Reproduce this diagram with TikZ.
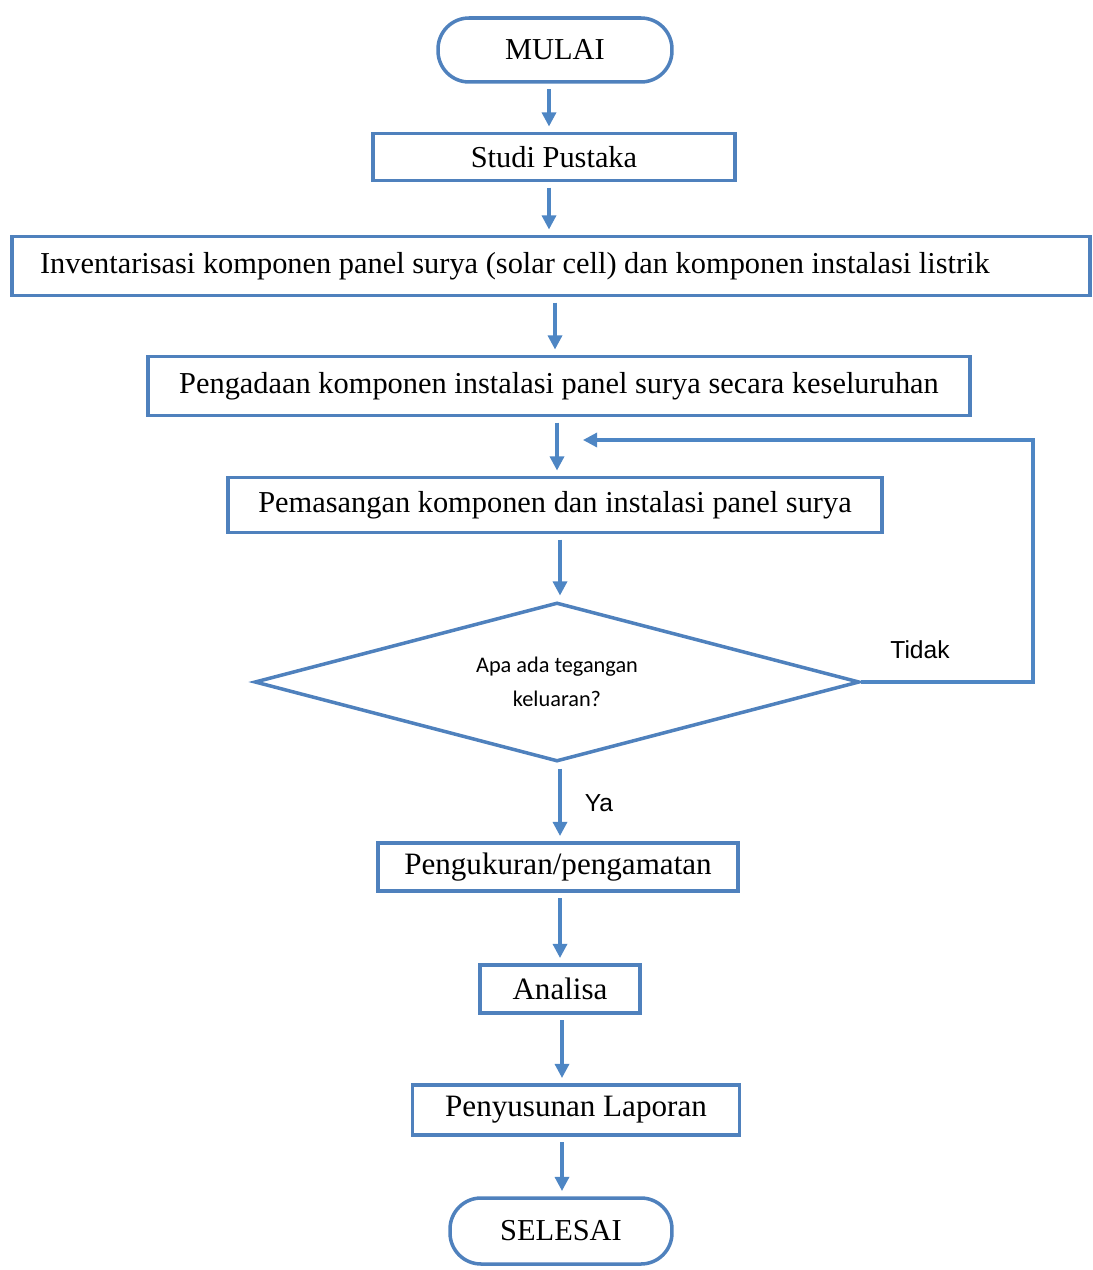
\documentclass[tikz,border=0pt]{standalone}
\usepackage{fontspec}
\setmainfont{Liberation Serif}
\newfontfamily\calibrifont{Carlito}
\newfontfamily\arialfont{Liberation Sans}
\usetikzlibrary{shapes.geometric,arrows.meta}
\definecolor{flowblue}{RGB}{79,129,189}
\definecolor{arrowblue}{RGB}{78,134,196}

\begin{document}
\begin{tikzpicture}[x=0.02cm,y=-0.02cm]
\tikzset{box/.style={draw=flowblue,line width=2pt,fill=white,inner sep=0pt,
  font=\fontsize{17.3}{20}\selectfont}}
\tikzset{lowbox/.style={box,font=\fontsize{17.7}{20}\selectfont}}
\tikzset{term/.style={box,rounded corners=0.62cm}}
\tikzset{decide/.style={draw=flowblue,line width=2pt,diamond,aspect=3.8,inner sep=0pt,
  minimum width=12.1cm,minimum height=3.18cm,align=center,
  font=\calibrifont\fontsize{12.7}{19}\selectfont}}
\tikzset{flow/.style={draw=arrowblue,line width=1.8pt,
  -{Triangle[length=8pt,width=8pt]},shorten <=3pt,shorten >=3pt}}
\tikzset{answer/.style={font=\arialfont\fontsize{14}{16}\selectfont}}
\useasboundingbox (0,0) rectangle (1092,1270);
% boxes
\node[term,minimum width=4.68cm,minimum height=1.28cm] (mulai) at (555,50) {MULAI};
\node[box,minimum width=7.24cm,minimum height=0.94cm] (studi) at (554,157) {Studi Pustaka};
\node[box,minimum height=1.18cm,text width=20.44cm,inner xsep=0.56cm,align=flush left]
  (inv) at (551,266) {Inventarisasi komponen panel surya (solar cell) dan komponen instalasi listrik};
\node[box,minimum width=16.44cm,minimum height=1.18cm] (adaan) at (559,386)
  {Pengadaan komponen instalasi panel surya secara keseluruhan};
\node[box,minimum width=13.08cm,minimum height=1.1cm] (pasang) at (555,505)
  {Pemasangan komponen dan instalasi panel surya};
\node[decide] (cek) at (557,682) {Apa ada tegangan\\keluaran?};
\node[lowbox,minimum width=7.2cm,minimum height=0.96cm] (ukur) at (558,867) {Pengukuran/pengamatan};
\node[lowbox,minimum width=3.2cm,minimum height=0.96cm] (analisa) at (560,989) {Analisa};
\node[lowbox,minimum width=6.54cm,minimum height=1cm] (lapor) at (576,1110) {Penyusunan Laporan};
\node[term,minimum width=4.44cm,minimum height=1.32cm] (selesai) at (561,1231) {SELESAI};
% arrows
\foreach \a/\b/\x in {mulai/studi/549,studi/inv/549,inv/adaan/555,adaan/pasang/557,pasang/cek/560,
  cek/ukur/560,ukur/analisa/560,analisa/lapor/562,lapor/selesai/562}
  \draw[flow] (\x,0 |- \a.south) -- (\x,0 |- \b.north);
% loop back
\coordinate (sudut) at (1033,440);
\coordinate (balik) at (583,440);
\draw[flow,shorten <=0pt,shorten >=0pt] (cek.east) -| (sudut) -- (balik);
\node[answer] (tidak) at (920,650) {Tidak};
\node[answer] (ya) at (599,803) {Ya};
\end{tikzpicture}
\end{document}
